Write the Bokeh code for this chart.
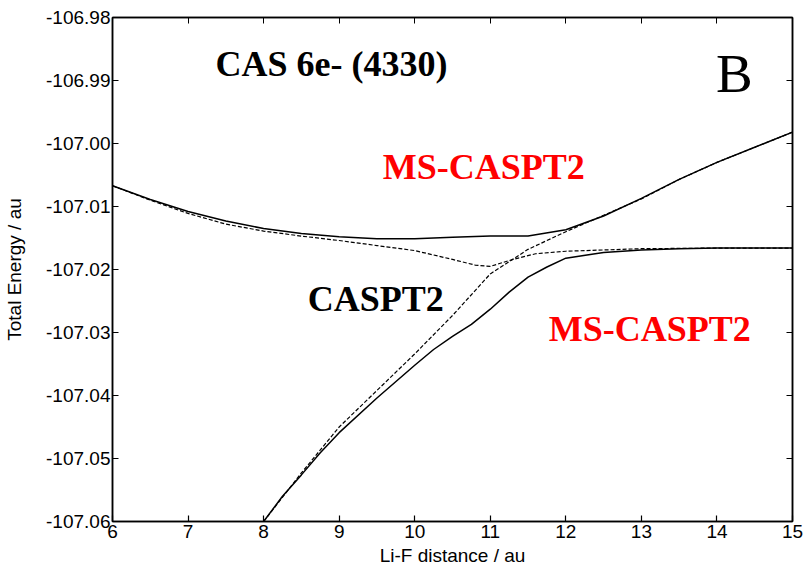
from bokeh.plotting import figure
from bokeh.models import Range1d, FixedTicker, LinearAxis, PrintfTickFormatter, Label
from bokeh.embed import file_html
from bokeh.resources import INLINE

# MS-CASPT2 upper state (solid)
ms_up_x = [6.0, 6.5, 7.0, 7.5, 8.0, 8.5, 9.0, 9.5, 10.0, 10.5, 11.0, 11.5, 12.0, 12.5, 13.0, 13.5, 14.0, 14.5, 15.0]
ms_up_y = [-107.0067, -107.0089, -107.0108, -107.0123, -107.0135, -107.0143, -107.0148, -107.0151, -107.0151,
           -107.0149, -107.0147, -107.0147, -107.0137, -107.0115, -107.0087, -107.0057, -107.0030, -107.0006, -106.9982]

# MS-CASPT2 lower state (solid)
ms_lo_x = [8.0, 8.25, 8.5, 8.75, 9.0, 9.5, 10.0, 10.25, 10.5, 10.75, 11.0, 11.25, 11.5, 11.75, 12.0, 12.5, 13.0, 13.5, 14.0, 15.0]
ms_lo_y = [-107.0600, -107.0560, -107.0526, -107.0491, -107.0459, -107.0404, -107.0352, -107.0327, -107.0306,
           -107.0287, -107.0263, -107.0236, -107.0212, -107.0196, -107.0182, -107.0173, -107.0169, -107.0167,
           -107.0166, -107.0166]

# CASPT2 covalent state (dashed)
cas_cov_x = [6.0, 6.5, 7.0, 7.5, 8.0, 8.5, 9.0, 9.5, 10.0, 10.5, 10.8, 11.0, 11.3, 11.6, 12.0, 12.5, 13.0, 14.0, 15.0]
cas_cov_y = [-107.0067, -107.0090, -107.0111, -107.0128, -107.0139, -107.0147, -107.0154, -107.0162, -107.0170,
             -107.0184, -107.0193, -107.0195, -107.0184, -107.0175, -107.0171, -107.0169, -107.0167, -107.0166,
             -107.0166]

# CASPT2 ionic state (dashed)
cas_ion_x = [8.0, 8.5, 9.0, 9.5, 10.0, 10.5, 11.0, 11.5, 12.0, 12.5, 13.0, 13.5, 14.0, 14.5, 15.0]
cas_ion_y = [-107.0600, -107.0523, -107.0450, -107.0392, -107.0334, -107.0273, -107.0207, -107.0168, -107.0140,
             -107.0114, -107.0088, -107.0057, -107.0030, -107.0006, -106.9982]

x_ticks = [6, 7, 8, 9, 10, 11, 12, 13, 14, 15]
y_ticks = [-107.06, -107.05, -107.04, -107.03, -107.02, -107.01, -107.00, -106.99, -106.98]

p = figure(frame_width=680, frame_height=504, output_backend="svg", toolbar_location=None,
           x_range=Range1d(6, 15), y_range=Range1d(-107.06, -106.98),
           min_border_left=112, min_border_right=16, min_border_top=17, min_border_bottom=50,
           background_fill_color="white", border_fill_color="white")
p.grid.visible = False
p.outline_line_color = "black"
p.outline_line_width = 1.5

tick_font = "Liberation Sans"
for ax in (p.xaxis[0], p.yaxis[0]):
    ax.major_tick_in = 6
    ax.major_tick_out = 0
    ax.minor_tick_line_color = None
    ax.axis_line_width = 1.5
    ax.major_tick_line_width = 1.2
    ax.major_label_text_font = tick_font
    ax.major_label_text_font_size = "19px"
    ax.major_label_text_color = "black"
    ax.axis_label_text_font = tick_font
    ax.axis_label_text_font_size = "19px"
    ax.axis_label_text_font_style = "normal"
    ax.axis_label_text_color = "black"

p.xaxis[0].ticker = FixedTicker(ticks=x_ticks)
p.yaxis[0].ticker = FixedTicker(ticks=y_ticks)
p.yaxis[0].formatter = PrintfTickFormatter(format="%.2f")
p.xaxis[0].axis_label = "Li-F distance / au"
p.yaxis[0].axis_label = "Total Energy / au"
p.xaxis[0].major_label_standoff = 3
p.xaxis[0].axis_label_standoff = 4
p.yaxis[0].major_label_standoff = 2
p.yaxis[0].axis_label_standoff = 18

top = LinearAxis(ticker=FixedTicker(ticks=x_ticks), major_tick_in=6, major_tick_out=0,
                 minor_tick_line_color=None, major_label_text_color=None, axis_line_width=1.5,
                 major_label_overrides={t: "" for t in x_ticks}, major_label_standoff=0)
right = LinearAxis(ticker=FixedTicker(ticks=y_ticks), major_tick_in=6, major_tick_out=0,
                   minor_tick_line_color=None, major_label_text_color=None, axis_line_width=1.5,
                   major_label_overrides={t: "" for t in y_ticks}, major_label_standoff=0)
p.add_layout(top, "above")
p.add_layout(right, "right")

p.line(ms_up_x, ms_up_y, line_color="black", line_width=1.5)
p.line(ms_lo_x, ms_lo_y, line_color="black", line_width=1.5)
p.line(cas_cov_x, cas_cov_y, line_color="black", line_width=1.2, line_dash="4 2")
p.line(cas_ion_x, cas_ion_y, line_color="black", line_width=1.2, line_dash="4 2")

serif = "Liberation Serif"
p.add_layout(Label(x=7.364, y=-106.9874, text="CAS 6e- (4330)", text_font=serif, text_font_size="36px",
                   text_font_style="bold", text_color="black", text_baseline="alphabetic"))
p.add_layout(Label(x=13.987, y=-106.9889, text="B", text_font=serif, text_font_size="55px",
                   text_color="black", text_baseline="alphabetic"))
p.add_layout(Label(x=9.576, y=-107.0037, text="MS-CASPT2", text_font=serif, text_font_size="36px",
                   text_font_style="bold", text_color="red", text_baseline="alphabetic"))
p.add_layout(Label(x=11.775, y=-107.0294, text="MS-CASPT2", text_font=serif, text_font_size="36px",
                   text_font_style="bold", text_color="red", text_baseline="alphabetic"))
p.add_layout(Label(x=8.583, y=-107.0247, text="CASPT2", text_font=serif, text_font_size="36px",
                   text_font_style="bold", text_color="black", text_baseline="alphabetic"))

open("out.html", "w").write(file_html(p, INLINE))
